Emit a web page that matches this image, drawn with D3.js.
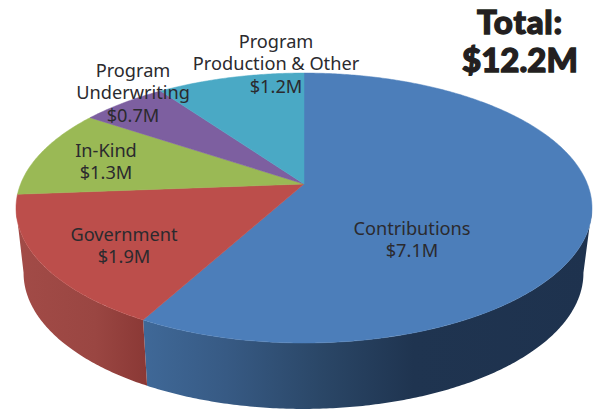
<!DOCTYPE html>
<html>
<head>
<meta charset="utf-8">
<script src="https://cdn.jsdelivr.net/npm/d3@7"></script>
<style>
  html, body { margin: 0; padding: 0; background: #fff; }
  svg { display: block; }
  text { font-family: "Noto Sans", sans-serif; fill: #2b2a2e; }
</style>
</head>
<body>
<svg id="mysvg"></svg>
<script>
// values in $M, clockwise from 12 o'clock (labels round them)
const categories = ["Contributions", "Government", "In-Kind", "Program Underwriting", "Program Production & Other"];
const amounts = [7.07, 1.93, 1.3, 0.7, 1.2];
const labelLines = [["Contributions"], ["Government"], ["In-Kind"], ["Program", "Underwriting"], ["Program", "Production & Other"]];
const topColors = ["#4c7eba", "#bc4e4b", "#9ab955", "#7d5fa0", "#4aa9c5"];
const totalLabel = "Total:";

const width = 601, height = 410;

// where the label block of each slice starts (x centre, first baseline)
const labelAt = [[412, 235], [124, 241], [106, 157], [133, 77], [276, 48]];
const lineGap = 22.4;

const svg = d3.select("#mysvg").attr("width", width).attr("height", height);

const pieData = d3.pie().sort(null).value(d => d)(amounts);
const color = d3.scaleOrdinal().domain(categories).range(topColors);

// perspective tilt: the pie's centre does not sit at the middle of the ellipse
const apex = { x: 304, y: 184 }, tilt = 0.178, radiusX = 283.4, radiusY = 130.7;
function project(a) {
  const w = 1 + tilt * Math.cos(a);
  return [apex.x + radiusX * Math.sin(a) / w, apex.y - radiusY * Math.cos(a) / w];
}
// the underside is the same ellipse, moved down and slightly narrower
const rimCentre = { x: 304, y: 208 }, underCentre = { x: 303.5, y: 273 };
function projectUnder(a) {
  const p = project(a);
  return [underCentre.x + (p[0] - rimCentre.x) * 0.972, underCentre.y + (p[1] - rimCentre.y) * 1.007];
}

function sweep(from, to) {
  const n = Math.ceil((to - from) / 0.01);
  return d3.range(n + 1).map(i => from + (to - from) * i / n);
}

// the wall is only seen between the two side extremes of the rim
const allAngles = sweep(0, 2 * Math.PI);
const rightmost = allAngles[d3.greatestIndex(allAngles, a => project(a)[0])];
const leftmost = allAngles[d3.leastIndex(allAngles, a => project(a)[0])];

const line = d3.line();
const defs = svg.append("defs");

function wallGradient(id, x1, x2, stops) {
  const g = defs.append("linearGradient").attr("id", id)
    .attr("gradientUnits", "userSpaceOnUse")
    .attr("x1", x1).attr("x2", x2).attr("y1", 0).attr("y2", 0);
  stops.forEach(s => g.append("stop").attr("offset", s[0]).attr("stop-color", s[1]));
}
wallGradient("wall0", 146, 592, [[0, "#3f6897"], [0.18, "#375a84"], [0.4, "#2a4666"], [0.6, "#1f3450"], [1, "#1e324e"]]);
wallGradient("wall1", 17, 148, [[0, "#a24b47"], [0.6, "#9a4642"], [1, "#8a3835"]]);

// front walls: only the first two slices show theirs
const walls = [
  { i: 0, from: rightmost, to: pieData[0].endAngle },
  { i: 1, from: pieData[1].startAngle, to: leftmost }
];
svg.selectAll(".wall").data(walls).join("path")
  .attr("class", "wall")
  .attr("fill", d => `url(#wall${d.i})`)
  .attr("d", d => {
    const as = sweep(d.from, d.to);
    return line(as.map(project).concat(as.slice().reverse().map(projectUnder))) + "Z";
  });

// top face
svg.selectAll(".slice").data(pieData).join("path")
  .attr("class", "slice")
  .attr("fill", (d, i) => color(categories[i]))
  .attr("stroke", (d, i) => color(categories[i]))
  .attr("stroke-width", 0.5)
  .attr("d", d => line([[apex.x, apex.y]].concat(sweep(d.startAngle, d.endAngle).map(project))) + "Z");

// labels
const labels = svg.selectAll(".label").data(pieData).join("text")
  .attr("class", "label")
  .attr("text-anchor", "middle")
  .attr("font-size", 18.2);

labels.each(function(d, i) {
  const lines = labelLines[i].concat("$" + amounts[i].toFixed(1) + "M");
  d3.select(this).selectAll("tspan").data(lines).join("tspan")
    .attr("x", labelAt[i][0])
    .attr("y", (t, j) => labelAt[i][1] + j * lineGap)
    .text(t => t);
});

// total
const total = svg.append("g").attr("text-anchor", "middle")
  .attr("font-weight", 900)
  .attr("font-size", 33);
total.append("text").attr("x", 520).attr("y", 34).attr("letter-spacing", 0.8)
  .style("font-family", "Lato").style("fill", "#231f20")
  .style("stroke", "#231f20").style("stroke-width", 1.3).text(totalLabel);
total.append("text").attr("x", 520).attr("y", 72)
  .style("font-family", "Lato").style("fill", "#231f20")
  .style("stroke", "#231f20").style("stroke-width", 1.3)
  .text("$" + d3.sum(amounts).toFixed(1) + "M");
</script>
</body>
</html>
